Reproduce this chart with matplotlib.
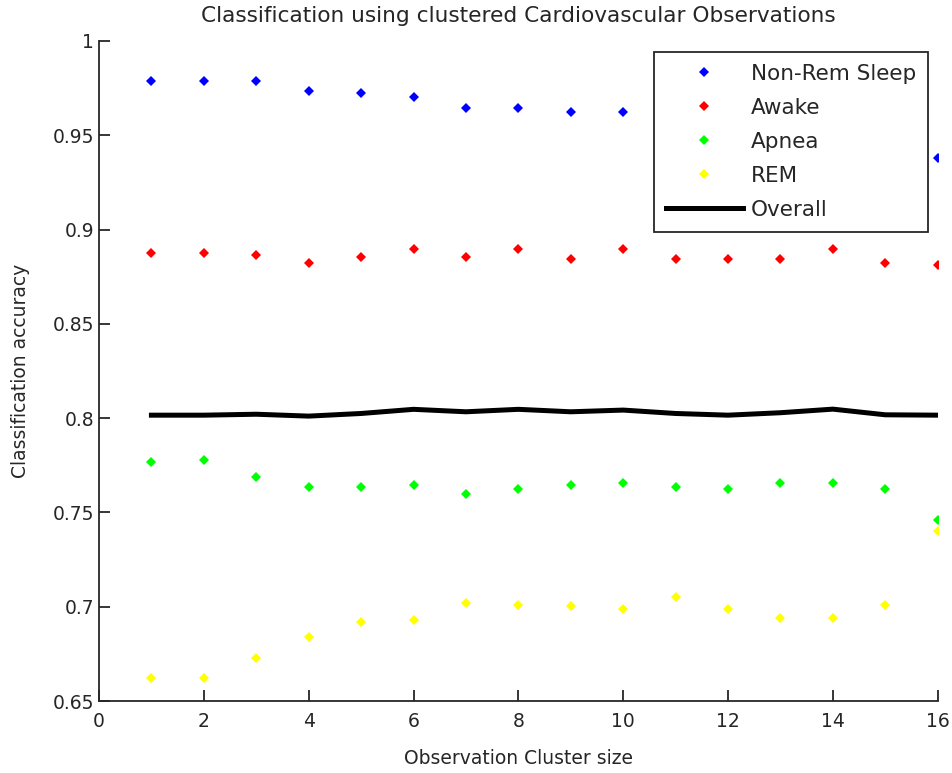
import matplotlib
matplotlib.use('Agg')
import matplotlib.pyplot as plt
import numpy as np

# cluster sizes and per-class accuracies
cluster_size = np.arange(1, 17)
non_rem = [0.9786, 0.9786, 0.9786, 0.9734, 0.9725, 0.9704, 0.9643, 0.9643,
           0.9623, 0.9623, 0.958, 0.955, 0.952, 0.950, 0.947, 0.9377]
awake = [0.8874, 0.8874, 0.8863, 0.8824, 0.8854, 0.8895, 0.8854, 0.8895,
         0.8844, 0.8895, 0.8844, 0.8844, 0.8844, 0.8895, 0.8824, 0.8812]
apnea = [0.7769, 0.7780, 0.7688, 0.7636, 0.7636, 0.7645, 0.7596, 0.7626,
         0.7645, 0.7656, 0.7636, 0.7626, 0.7656, 0.7656, 0.7626, 0.7461]
rem = [0.6624, 0.6624, 0.6726, 0.6838, 0.6919, 0.6929, 0.7021, 0.7011,
       0.7002, 0.6991, 0.7051, 0.6991, 0.6940, 0.6940, 0.7011, 0.7400]
overall = [0.8016, 0.8016, 0.8021, 0.8011, 0.8025, 0.8047, 0.8034, 0.8047,
           0.8034, 0.8043, 0.8025, 0.8016, 0.8029, 0.8048, 0.8018, 0.8016]

txt = '#262626'
plt.rcParams['font.family'] = ['DejaVu Sans']
plt.rcParams['font.size'] = 13.5

fig = plt.figure(figsize=(9.52, 7.73), dpi=100)
ax = fig.add_axes([0.104, 0.093, 0.881, 0.854])

ms = 5
ax.plot(cluster_size, non_rem, 'D', color='#0000ff', ms=ms, mew=0, label='Non-Rem Sleep')
ax.plot(cluster_size, awake, 'D', color='#ff0000', ms=ms, mew=0, label='Awake')
ax.plot(cluster_size, apnea, 'D', color='#00ff00', ms=ms, mew=0, label='Apnea')
ax.plot(cluster_size, rem, 'D', color='#ffff00', ms=ms, mew=0, label='REM')
ax.plot(cluster_size, overall, '-', color='black', lw=3.6, label='Overall')

ax.set_xlim(0, 16)
ax.set_ylim(0.65, 1.0)
ax.set_xticks(np.arange(0, 17, 2))
ax.set_yticks(np.arange(0.65, 1.001, 0.05))
ax.set_yticklabels(['0.65', '0.7', '0.75', '0.8', '0.85', '0.9', '0.95', '1'])

for s in ['top', 'right']:
    ax.spines[s].set_visible(False)
for s in ['left', 'bottom']:
    ax.spines[s].set_linewidth(1.3)
    ax.spines[s].set_color('#262626')
ax.tick_params(direction='in', length=8, width=1.3, colors=txt, labelcolor=txt)
ax.tick_params(axis='x', pad=8)

ax.set_title('Classification using clustered Cardiovascular Observations',
             color=txt, pad=14, fontsize=15.6)
ax.set_xlabel('Observation Cluster size', color=txt, labelpad=13)
ax.set_ylabel('Classification accuracy', color=txt, labelpad=16)

leg = ax.legend(loc='upper right', bbox_to_anchor=(0.988, 0.983), borderaxespad=0,
                fancybox=False, framealpha=1, edgecolor='#262626',
                fontsize=15.5, handlelength=3.6, handletextpad=0.35,
                labelspacing=0.65, borderpad=0.55, markerscale=1.0)
leg.get_frame().set_linewidth(1.3)
for t in leg.get_texts():
    t.set_color(txt)

fig.savefig('out.png', dpi=100)
